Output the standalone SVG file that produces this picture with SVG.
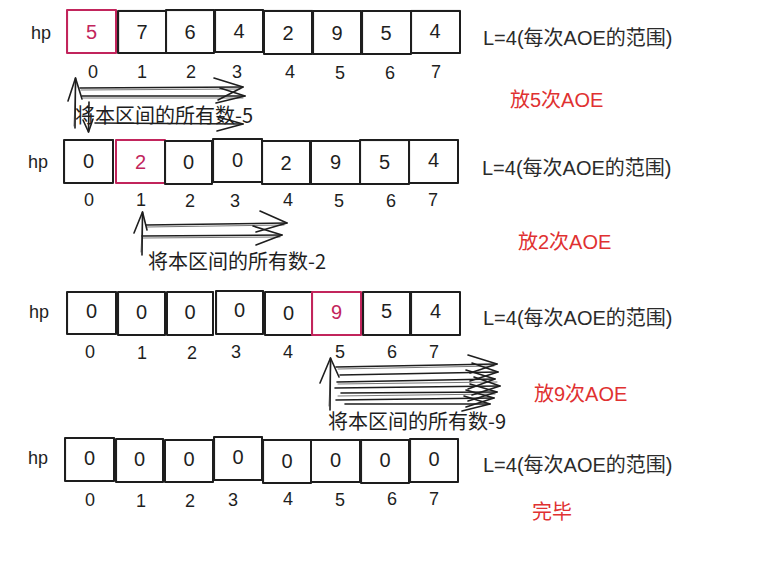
<svg xmlns="http://www.w3.org/2000/svg" width="776" height="561" viewBox="0 0 776 561">
<defs>
<style>
.bg{fill:#ffffff}
.box{fill:none;stroke:#1e1e1e;stroke-width:2;stroke-linejoin:round}
.box2{fill:none;stroke:#1e1e1e;stroke-width:1;opacity:0.7}
.hot .box,.hot .box2{stroke:#c2255c}
.v{font-family:"Liberation Sans","Noto Sans",sans-serif;font-size:20px;fill:#1e1e1e;text-anchor:middle;dominant-baseline:central}
.hot .v{fill:#c2255c}
.idx{font-family:"Liberation Sans","Noto Sans",sans-serif;font-size:18px;fill:#1e1e1e;text-anchor:middle;dominant-baseline:central}
.hp{font-family:"Liberation Sans","Noto Sans",sans-serif;font-size:18px;fill:#1e1e1e;text-anchor:middle;dominant-baseline:central}
.note{font-family:"Liberation Sans","Noto Sans CJK SC",sans-serif;font-size:20px;fill:#2b2b2b;dominant-baseline:central}
.red{font-family:"Liberation Sans","Noto Sans CJK SC",sans-serif;font-size:20px;fill:#e03131;dominant-baseline:central}
.lab{font-family:"Noto Sans CJK SC","Liberation Sans",sans-serif;font-size:20px;fill:#1e1e1e;dominant-baseline:central}
.ar{fill:none;stroke:#1e1e1e;stroke-width:1.6;stroke-linecap:round;stroke-linejoin:round}
.ar2{fill:none;stroke:#1e1e1e;stroke-width:1;stroke-linecap:round;opacity:0.6}
</style>
</defs>
<rect class="bg" x="0" y="0" width="776" height="561"/>

<!-- Row 1 -->
<g id="row1">
<text class="hp" x="41" y="33">hp</text>
<g id="r1c0" class="hot"><rect class="box" x="67" y="10" width="49" height="43"/><rect class="box2" x="67.6" y="10.5" width="48.4" height="42.4"/><text class="v" x="91.5" y="32">5</text></g>
<g id="r1c1"><rect class="box" x="118" y="11" width="48" height="42"/><rect class="box2" x="118.7" y="10.4" width="47.6" height="43"/><text class="v" x="142" y="32">7</text></g>
<g id="r1c2"><rect class="box" x="166" y="10" width="48" height="43"/><rect class="box2" x="166.6" y="10.6" width="47.2" height="42.6"/><text class="v" x="190" y="32">6</text></g>
<g id="r1c3"><rect class="box" x="215" y="10" width="48" height="42"/><rect class="box2" x="215.6" y="9.5" width="47.5" height="43"/><text class="v" x="239" y="31">4</text></g>
<g id="r1c4"><rect class="box" x="264" y="11" width="48" height="43"/><rect class="box2" x="264.5" y="10.4" width="47.6" height="43.4"/><text class="v" x="288" y="33">2</text></g>
<g id="r1c5"><rect class="box" x="313" y="11" width="48" height="43"/><rect class="box2" x="313.6" y="11.5" width="47.4" height="42.5"/><text class="v" x="337" y="33">9</text></g>
<g id="r1c6"><rect class="box" x="362" y="11" width="49" height="43"/><rect class="box2" x="362.6" y="10.5" width="48.4" height="43.4"/><text class="v" x="386" y="33">5</text></g>
<g id="r1c7"><rect class="box" x="411" y="11" width="49" height="42"/><rect class="box2" x="411.6" y="10.4" width="48.4" height="43"/><text class="v" x="435" y="31">4</text></g>
<g id="r1idx">
<text class="idx" x="93" y="72">0</text><text class="idx" x="142" y="72">1</text><text class="idx" x="191" y="72">2</text><text class="idx" x="237" y="72">3</text><text class="idx" x="290" y="72">4</text><text class="idx" x="340" y="73">5</text><text class="idx" x="390" y="73">6</text><text class="idx" x="436" y="72">7</text>
</g>
<text class="note" x="483" y="38">L=4(每次AOE的范围)</text>
<text class="red" x="510" y="100">放5次AOE</text>
<text class="lab" x="75" y="114">将本区间的所有数-5</text>
</g>

<!-- Row 2 -->
<g id="row2">
<text class="hp" x="38" y="162">hp</text>
<g id="r2c0"><rect class="box" x="64" y="140" width="49" height="43"/><rect class="box2" x="64.6" y="139.5" width="48.6" height="43"/><text class="v" x="88.5" y="161">0</text></g>
<g id="r2c1" class="hot"><rect class="box" x="116" y="140" width="49" height="43"/><rect class="box2" x="116.5" y="140.5" width="48.5" height="42.5"/><text class="v" x="140.5" y="162">2</text></g>
<g id="r2c2"><rect class="box" x="165" y="141" width="47" height="43"/><rect class="box2" x="165.6" y="140.5" width="46.6" height="43"/><text class="v" x="188.5" y="162">0</text></g>
<g id="r2c3"><rect class="box" x="213" y="139" width="49" height="43"/><rect class="box2" x="213.6" y="138.5" width="48.4" height="43.4"/><text class="v" x="237.5" y="160">0</text></g>
<g id="r2c4"><rect class="box" x="262" y="141" width="48" height="43"/><rect class="box2" x="262.6" y="141.5" width="47.4" height="42.5"/><text class="v" x="286" y="163">2</text></g>
<g id="r2c5"><rect class="box" x="311" y="141" width="49" height="43"/><rect class="box2" x="311.5" y="140.5" width="48.5" height="43.4"/><text class="v" x="335.5" y="162">9</text></g>
<g id="r2c6"><rect class="box" x="360" y="140" width="49" height="44"/><rect class="box2" x="360.6" y="140.6" width="48.4" height="43.4"/><text class="v" x="384.5" y="162">5</text></g>
<g id="r2c7"><rect class="box" x="409" y="140" width="49" height="43"/><rect class="box2" x="409.6" y="139.5" width="48.4" height="43.5"/><text class="v" x="433.5" y="160">4</text></g>
<g id="r2idx">
<text class="idx" x="89" y="200">0</text><text class="idx" x="141" y="200">1</text><text class="idx" x="190" y="201">2</text><text class="idx" x="235" y="201">3</text><text class="idx" x="288" y="200">4</text><text class="idx" x="339" y="201">5</text><text class="idx" x="391" y="201">6</text><text class="idx" x="433" y="200">7</text>
</g>
<text class="note" x="482" y="168">L=4(每次AOE的范围)</text>
<text class="red" x="518" y="242">放2次AOE</text>
<text class="lab" x="148" y="260">将本区间的所有数-2</text>
</g>

<!-- Row 3 -->
<g id="row3">
<text class="hp" x="39" y="312">hp</text>
<g id="r3c0"><rect class="box" x="67" y="292" width="49" height="42"/><rect class="box2" x="67.6" y="291.5" width="48.4" height="43"/><text class="v" x="91.5" y="311">0</text></g>
<g id="r3c1"><rect class="box" x="118" y="292" width="47" height="43"/><rect class="box2" x="118.6" y="292.5" width="46.6" height="42.5"/><text class="v" x="141.5" y="312">0</text></g>
<g id="r3c2"><rect class="box" x="167" y="292" width="46" height="43"/><rect class="box2" x="167.5" y="291.5" width="45.6" height="43.5"/><text class="v" x="190" y="312">0</text></g>
<g id="r3c3"><rect class="box" x="216" y="291" width="47" height="43"/><rect class="box2" x="216.6" y="290.5" width="46.6" height="43.5"/><text class="v" x="239.5" y="310">0</text></g>
<g id="r3c4"><rect class="box" x="265" y="292" width="47" height="43"/><rect class="box2" x="265.5" y="292.5" width="46.5" height="42.5"/><text class="v" x="288.5" y="313">0</text></g>
<g id="r3c5" class="hot"><rect class="box" x="312" y="292" width="49" height="43"/><rect class="box2" x="312.6" y="292.5" width="48.4" height="42.5"/><text class="v" x="336.5" y="312">9</text></g>
<g id="r3c6"><rect class="box" x="363" y="292" width="47" height="43"/><rect class="box2" x="363.6" y="291.5" width="46.6" height="43.5"/><text class="v" x="386.5" y="311">5</text></g>
<g id="r3c7"><rect class="box" x="411" y="292" width="49" height="43"/><rect class="box2" x="411.6" y="292.5" width="48.4" height="42.5"/><text class="v" x="435.5" y="311">4</text></g>
<g id="r3idx">
<text class="idx" x="90" y="352">0</text><text class="idx" x="142" y="353">1</text><text class="idx" x="192" y="353">2</text><text class="idx" x="236" y="352">3</text><text class="idx" x="288" y="352">4</text><text class="idx" x="340" y="352">5</text><text class="idx" x="392" y="352">6</text><text class="idx" x="434" y="352">7</text>
</g>
<text class="note" x="483" y="318">L=4(每次AOE的范围)</text>
<text class="red" x="534" y="394">放9次AOE</text>
<text class="lab" x="328" y="420">将本区间的所有数-9</text>
</g>

<!-- Row 4 -->
<g id="row4">
<text class="hp" x="38" y="458">hp</text>
<g id="r4c0"><rect class="box" x="65" y="438" width="49" height="43"/><rect class="box2" x="65.6" y="437.5" width="48.4" height="43.5"/><text class="v" x="89.5" y="458">0</text></g>
<g id="r4c1"><rect class="box" x="116" y="439" width="47" height="43"/><rect class="box2" x="116.6" y="438.5" width="46.6" height="43.5"/><text class="v" x="139.5" y="459">0</text></g>
<g id="r4c2"><rect class="box" x="165" y="440" width="48" height="42"/><rect class="box2" x="165.5" y="439.5" width="47.6" height="42.5"/><text class="v" x="189" y="459">0</text></g>
<g id="r4c3"><rect class="box" x="214" y="437" width="48" height="43"/><rect class="box2" x="214.6" y="436.5" width="47.4" height="43.5"/><text class="v" x="238" y="457">0</text></g>
<g id="r4c4"><rect class="box" x="263" y="440" width="48" height="43"/><rect class="box2" x="263.6" y="439.5" width="47.4" height="43.5"/><text class="v" x="287" y="461">0</text></g>
<g id="r4c5"><rect class="box" x="311" y="440" width="49" height="42"/><rect class="box2" x="311.5" y="439.6" width="48.5" height="42.5"/><text class="v" x="335.5" y="460">0</text></g>
<g id="r4c6"><rect class="box" x="361" y="440" width="48" height="43"/><rect class="box2" x="361.6" y="440.5" width="47.4" height="42.5"/><text class="v" x="385" y="460">0</text></g>
<g id="r4c7"><rect class="box" x="410" y="439" width="48" height="43"/><rect class="box2" x="410.6" y="438.5" width="47.4" height="43.5"/><text class="v" x="434" y="459">0</text></g>
<g id="r4idx">
<text class="idx" x="90" y="500">0</text><text class="idx" x="141" y="501">1</text><text class="idx" x="190" y="501">2</text><text class="idx" x="233" y="500">3</text><text class="idx" x="288" y="499">4</text><text class="idx" x="340" y="500">5</text><text class="idx" x="392" y="499">6</text><text class="idx" x="434" y="499">7</text>
</g>
<text class="note" x="483" y="465">L=4(每次AOE的范围)</text>
<text class="red" x="532" y="512">完毕</text>
</g>

<!-- Connectors -->
<g id="connectors">
<!-- row 1 arrows -->
<path class="ar" d="M75 128 L75.5 78"/>
<path class="ar2" d="M74 126 L76 80"/>
<path class="ar" d="M68 101 L75.5 78 L82 99"/>
<path class="ar" d="M89 102 L88.5 132"/>
<path class="ar" d="M83 120 L88.5 132 L93 119"/>
<path class="ar" d="M80 88 L243 87"/>
<path class="ar2" d="M81 90 L240 89"/>
<path class="ar" d="M214 78 L243 87 L218 100"/>
<path class="ar" d="M82 96 L245 96"/>
<path class="ar2" d="M83 98 L243 98"/>
<path class="ar" d="M220 88 L245 96 L216 103"/>
<path class="ar" d="M95 123 L243 124"/>
<path class="ar" d="M218 117 L243 124 L217 131"/>

<!-- row 2 arrows -->
<path class="ar" d="M142 255 L142.5 212"/>
<path class="ar2" d="M141 252 L143 214"/>
<path class="ar" d="M134 233 L142.5 212 L147 230"/>
<path class="ar" d="M146 225 L287 223"/>
<path class="ar2" d="M147 227 L284 225"/>
<path class="ar" d="M260 211 L287 223 L256 232"/>
<path class="ar" d="M142 236 L282 235"/>
<path class="ar2" d="M143 238 L280 237"/>
<path class="ar" d="M253 226 L282 235 L256 245"/>

<!-- row 3 arrows -->
<path class="ar" d="M330 410 L330.5 358"/>
<path class="ar2" d="M329 406 L331 361"/>
<path class="ar" d="M320 383 L330.5 358 L339 377"/>
<path class="ar" d="M336 367 L497 364"/>
<path class="ar" d="M340 375 L498 372"/>
<path class="ar" d="M337 382 L495 379"/>
<path class="ar" d="M335 388 L500 386"/>
<path class="ar" d="M341 393 L497 392"/>
<path class="ar" d="M336 400 L494 398"/>
<path class="ar" d="M345 404 L490 404"/>
<path class="ar2" d="M338 369 L494 366"/>
<path class="ar2" d="M338 384 L497 382"/>
<path class="ar2" d="M338 396 L495 394"/>
<path class="ar" d="M468 355 L497 364 L470 373"/>
<path class="ar" d="M472 363 L498 372 L470 381"/>
<path class="ar" d="M466 370 L495 379 L468 389"/>
<path class="ar" d="M474 377 L500 386 L472 395"/>
<path class="ar" d="M470 384 L497 392 L468 401"/>
<path class="ar" d="M466 390 L494 398 L466 407"/>
<path class="ar" d="M464 396 L490 404 L462 411"/>
</g>
</svg>
